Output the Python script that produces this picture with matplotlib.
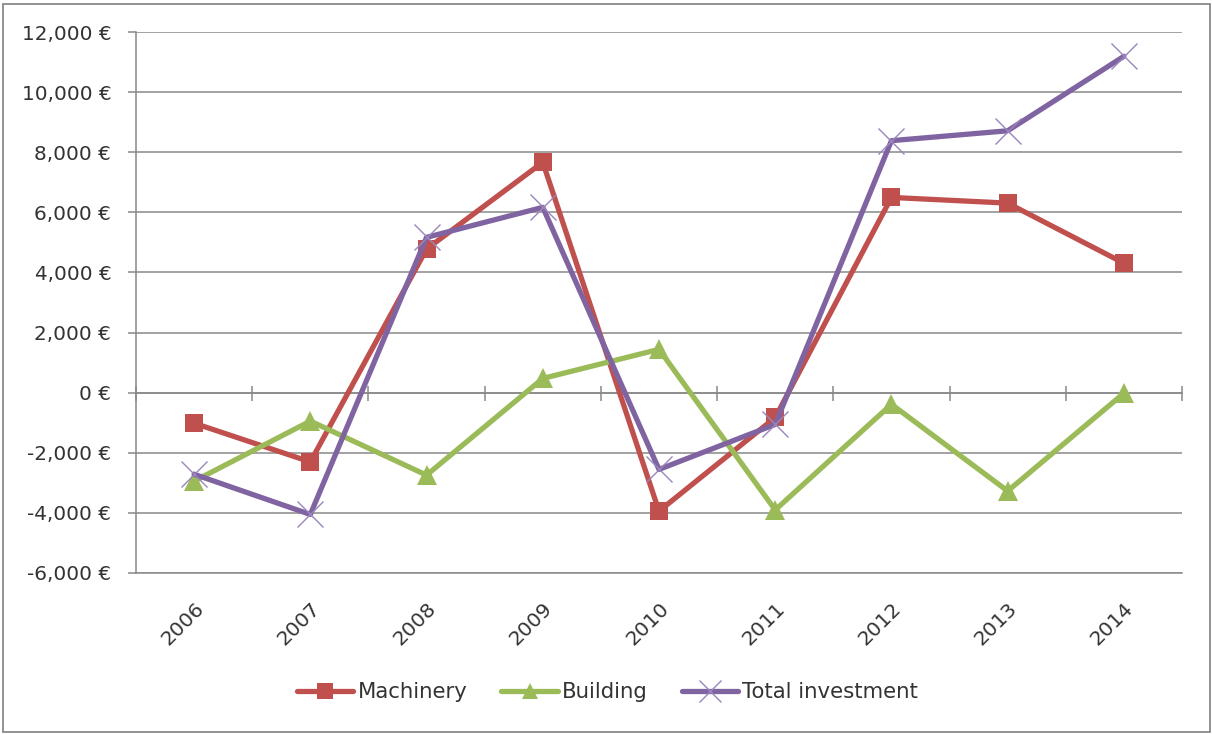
import matplotlib
matplotlib.use("Agg")
import matplotlib.pyplot as plt
from matplotlib.ticker import FuncFormatter
from matplotlib.patches import Rectangle
import numpy as np

years = ['2006', '2007', '2008', '2009', '2010', '2011', '2012', '2013', '2014']
machinery = [-1020, -2310, 4780, 7670, -3950, -830, 6500, 6310, 4310]
building = [-2950, -950, -2750, 470, 1440, -3910, -390, -3280, -20]
total_investment = [-2720, -4060, 5170, 6170, -2560, -1060, 8390, 8720, 11200]

series_names = ['Machinery', 'Building', 'Total investment']
y_min, y_max, y_step = -6000, 12000, 2000

plt.rcParams['font.family'] = ['DejaVu Sans']

W, H = 1212, 734
fig = plt.figure(figsize=(W / 100, H / 100), dpi=100)
ax = fig.add_axes([136 / W, 1 - 572.7 / H, (1182 - 136) / W, (572.7 - 32.3) / H])

grid_col = '#898989'
text_col = '#333333'
x = np.arange(len(years))

ax.plot(x, machinery, color='#C0504D', lw=3.8, marker='s', ms=13, mew=0,
        mfc='#C0504D', label=series_names[0], solid_capstyle='round', solid_joinstyle='round', zorder=3)
ax.plot(x, building, color='#9BBB59', lw=3.8, marker='^', ms=14, mew=0,
        mfc='#9BBB59', label=series_names[1], solid_capstyle='round', solid_joinstyle='round', zorder=4)
ax.plot(x, total_investment, color='#8064A2', lw=3.8, marker='x', ms=19, mew=1.0,
        mec='#9a86bd', label=series_names[2], solid_capstyle='round', solid_joinstyle='round', zorder=5)

ax.set_xlim(-0.5, len(years) - 0.5)
ax.set_ylim(y_min, y_max)
ax.set_yticks(np.arange(y_min, y_max + 1, y_step))
ax.yaxis.set_major_formatter(FuncFormatter(lambda v, p: f"{v:,.0f} €"))
ax.grid(axis='y', color=grid_col, lw=1.1, zorder=0)
ax.set_axisbelow(True)

ax.set_xticks(x)
ax.set_xticklabels(years, rotation=45, ha='right', va='top', rotation_mode='anchor')
ax.tick_params(axis='x', length=0, pad=19, labelsize=14.6, colors=text_col)
ax.tick_params(axis='y', length=5.8, width=1.1, color=grid_col, pad=12,
               labelsize=14.4, labelcolor=text_col, direction='out')

for s in ['top', 'right']:
    ax.spines[s].set_visible(False)
for s in ['left', 'bottom']:
    ax.spines[s].set_color(grid_col)
    ax.spines[s].set_linewidth(1.1)

# horizontal category axis crossing at zero, with tick marks between categories
zero_loc = (0 - y_min) / (y_max - y_min)
sec = ax.secondary_xaxis(zero_loc)
sec.set_xticks(np.arange(-0.5, len(years), 1.0))
sec.tick_params(axis='x', direction='inout', length=10.8, width=1.1, color=grid_col,
                labeltop=False, labelbottom=False)
for s in sec.spines.values():
    s.set_color(grid_col)
    s.set_linewidth(1.1)

leg = fig.legend(loc='center', bbox_to_anchor=(607.5 / W, 1 - 692 / H), ncol=3,
                 frameon=False, fontsize=15.3, handlelength=2.65, handletextpad=0.2,
                 columnspacing=1.6, labelcolor=text_col, markerscale=0.85)

fig.patches.append(Rectangle((3 / W, 2 / H), (1210 - 3) / W, (731 - 3) / H,
                             transform=fig.transFigure, fill=False,
                             edgecolor='#8a8a8a', lw=1.3))

fig.savefig('out.png', dpi=100)
